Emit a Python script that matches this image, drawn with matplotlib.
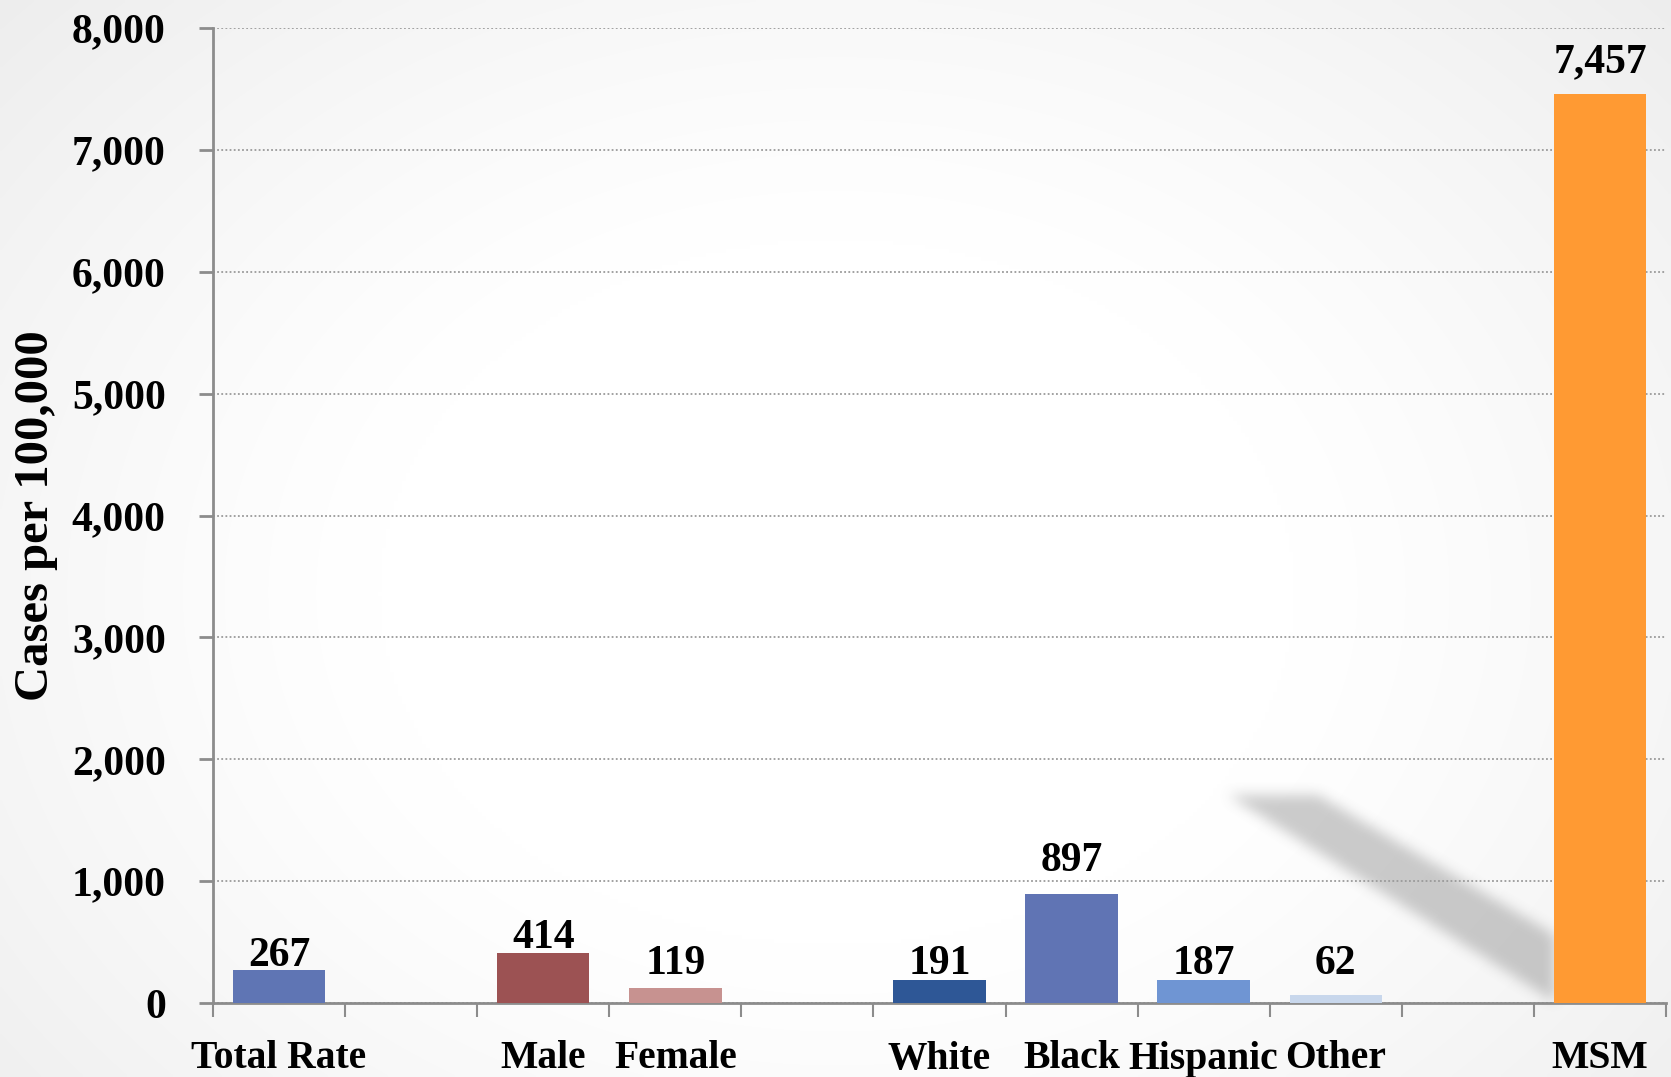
import numpy as np
import matplotlib
matplotlib.use("Agg")
import matplotlib.pyplot as plt
from matplotlib import path
from matplotlib.ticker import FuncFormatter

# data
categories = ["Total Rate", "", "Male", "Female", "", "White", "Black", "Hispanic", "Other", "", "MSM"]
rates = [267, None, 414, 119, None, 191, 897, 187, 62, None, 7457]
bar_colors = ["#5F75B4", None, "#9C5253", "#C79290", None, "#2E5796", "#6074B4", "#6F95D3", "#C8D7EC", None, "#FF9A33"]
y_ticks = [0, 1000, 2000, 3000, 4000, 5000, 6000, 7000, 8000]

plt.rcParams['font.family'] = ['Liberation Serif', 'DejaVu Serif']
plt.rcParams['font.weight'] = 'bold'

W, H = 1671, 1077
fig = plt.figure(figsize=(W / 100, H / 100), dpi=100)

# background: soft vignette plus the diagonal shadow
bg = fig.add_axes([0, 0, 1, 1], zorder=-1)
bg.set_xlim(0, W)
bg.set_ylim(H, 0)
bg.axis("off")
yy, xx = np.mgrid[0:H:4, 0:W:4]
r = np.sqrt(((xx - W * 0.5) / (W * 0.5)) ** 2 + ((yy - H * 0.55) / (H * 0.6)) ** 2)
shade = 1.0 - 0.09 * np.clip(r - 0.55, 0, None) ** 1.2
shade = np.clip(shade, 0.92, 1.0)
bg.imshow(np.dstack([shade, shade, shade]), extent=[0, W, H, 0], aspect="auto", interpolation="bilinear")

sx0, sx1, sy0, sy1 = 1190, 1580, 760, 1020
gy, gx = np.mgrid[sy0:sy1, sx0:sx1]
shadow_path = path.Path([(1228, 795), (1318, 795), (1555, 935), (1555, 1002), (1228, 795)])
mask = shadow_path.contains_points(np.vstack([gx.ravel() + 0.5, gy.ravel() + 0.5]).T).reshape(gx.shape).astype(float)
k = np.ones(15) / 15
for _ in range(2):
    mask = np.apply_along_axis(lambda m: np.convolve(m, k, mode="same"), 0, mask)
    mask = np.apply_along_axis(lambda m: np.convolve(m, k, mode="same"), 1, mask)
rgba = np.zeros(mask.shape + (4,))
rgba[..., :3] = 0.45
rgba[..., 3] = mask * 0.36
bg.imshow(rgba, extent=[sx0, sx1, sy1, sy0], aspect="auto", interpolation="bilinear")

ax = fig.add_axes([213 / W, 74 / H, (1666 - 213) / W, (1003 - 28) / H])
ax.patch.set_alpha(0)

x = np.arange(len(categories))
for xi, v, c in zip(x, rates, bar_colors):
    if v is None:
        continue
    ax.bar(xi, v, width=0.7, color=c, zorder=3)
    label_y = max(v, 200) + (150 if v > 500 else 0)
    ax.text(xi, label_y - 40, f"{v:,}", ha="center", va="bottom", fontsize=30,
            fontweight="bold", zorder=4)

ax.set_xlim(-0.5, len(categories) - 0.5)
ax.set_ylim(0, 8000)
ax.set_yticks(y_ticks)
ax.yaxis.set_major_formatter(FuncFormatter(lambda v, p: f"{int(v):,}"))
ax.tick_params(axis="y", length=10, width=2, color="#8c8c8c", pad=24, labelsize=30)
ax.grid(axis="y", color="#9a9a9a", linestyle=(0, (1, 1.3)), linewidth=1.3, zorder=1)

ax.set_xticks(np.arange(len(categories) + 1) - 0.5)
ax.set_xticklabels([])
ax.set_xticks(x, minor=True)
ax.set_xticklabels(categories, minor=True)
ax.tick_params(axis="x", which="major", length=10, width=1.5, color="#8c8c8c")
ax.tick_params(axis="x", which="minor", length=0, pad=27, labelsize=28.5)

for side in ["top", "right"]:
    ax.spines[side].set_visible(False)
for side in ["left", "bottom"]:
    ax.spines[side].set_color("#8c8c8c")
    ax.spines[side].set_linewidth(2)

ax.set_ylabel("Cases per 100,000", fontsize=35, fontweight="bold")
ax.yaxis.set_label_coords(-0.107, 0.5)

fig.savefig("out.png", dpi=100)
